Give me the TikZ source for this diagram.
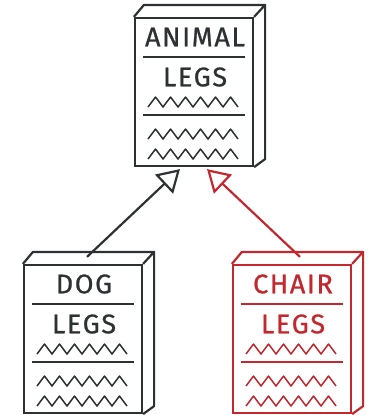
\documentclass[tikz,border=0pt]{standalone}
\usepackage{fontspec}
\setmainfont{Fira Sans}
\newfontfamily\sketchfont{Fira Sans}[FakeBold=0.8, LetterSpace=6]
\usetikzlibrary{arrows.meta, positioning}
\definecolor{ink}{HTML}{2E3133}
\definecolor{redink}{HTML}{C3282E}

\tikzset{
	front/.style = {draw, line width=2.2pt, minimum width=118pt, minimum height=148pt, inner sep=0pt},
	label/.style = {font=\sketchfont\fontsize{27}{27}\selectfont, inner sep=0pt},
	inherit/.style = {line width=2.2pt, -{Triangle[open, length=22pt, width=26pt, line width=2.2pt]}}
}

% one class drawn as a box: name, left, top, title, colour
\newcommand{\classbox}[5]{%
	\node[front, draw=#5] at (#2+59, #3+74) (#1) {};
	\draw[#5, line width=2.2pt, line join=round] (#1.north west) -- ++(10,-12) -- ([shift={(11,-12)}]#1.north east) -- (#1.north east);
	\draw[#5, line width=2.2pt, line join=round] ([shift={(11,-12)}]#1.north east) -- ([shift={(11,-8)}]#1.south east) -- (#1.south east);
	\node[label, text=#5] at (#2+60, #3+19) (#1-name) {#4};
	\node[label, text=#5] at (#2+60, #3+59) (#1-legs) {LEGS};
	\draw[#5, line width=1.8pt] (#2+8, #3+39) -- (#2+110, #3+39);
	\draw[#5, line width=1.8pt] (#2+8, #3+97) -- (#2+110, #3+97);
	\foreach \zy in {84, 116, 136}
		\draw[#5, line width=1.5pt, line join=round] (#2+13, #3+\zy+5) \foreach \k in {0,...,5} { -- ++(7.5,-10) -- ++(7.5,10)};
}

\begin{document}
\begin{tikzpicture}[x=1pt, y=-1pt]
	\useasboundingbox (0,0) rectangle (373,415);
	\classbox{animal}{135}{18}{ANIMAL}{ink}
	\classbox{dog}{24}{265}{DOG}{ink}
	\classbox{chair}{233}{265}{CHAIR}{redink}
	\draw[inherit, ink] ([shift={(4,-7)}]dog.north) -- ([shift={(-14,2)}]animal.south);
	\draw[inherit, redink] ([shift={(8,-7)}]chair.north) -- ([shift={(13,2)}]animal.south);
\end{tikzpicture}
\end{document}
